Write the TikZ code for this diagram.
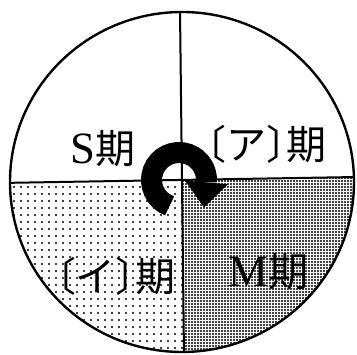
\documentclass[tikz,border=0pt]{standalone}
\usepackage{fontspec}
\setmainfont{Liberation Serif}[Scale=1.12]
\newfontfamily\jp[CharacterWidth=AlternateHalf]{Noto Sans CJK JP}
\usetikzlibrary{patterns.meta}
\begin{document}
\begin{tikzpicture}[x=1pt,y=1pt,
  lbl/.style={inner sep=0pt, font=\fontsize{40}{40}\selectfont},
  divline/.style={line width=2pt},
  rim/.style={line width=2.4pt}]
\useasboundingbox (0,0) rectangle (357,355);
\coordinate (O) at (182,173);
\coordinate (T) at (180,345);
\coordinate (B) at (184,0);
\coordinate (L) at (0,172);
\coordinate (R) at (357,178);
\coordinate (C) at (182,175);
\coordinate (A) at (179,175);
\begin{scope}
  \clip (O) ellipse [x radius=172, y radius=170];
  \fill[pattern={Dots[radius=1.1pt,distance=7pt]}] (C) -- (L) -- (0,-5) -- (184,-5) -- cycle;
  \fill[pattern={Dots[radius=1.1pt,distance=3pt]}] (C) -- (R) -- (360,-5) -- (184,-5) -- cycle;
  \draw[divline] (T) -- (B);
  \draw[divline] (L) -- (R);
\end{scope}
\draw[rim] (O) ellipse [x radius=172, y radius=170];
% cycle arrow
\draw[line width=21pt] ([shift={(250:27.5)}]A) arc[start angle=250, end angle=-5, radius=27.5];
\fill ([shift={(-5:6)}]A) -- ([shift={(-5:49)}]A) -- (204,147.5) -- cycle;
% labels
\node[lbl] (s) at (103,206) {S{\jp 期}};
\node[lbl] (a) at (266.5,211) {\jp 〔ア〕期};
\node[lbl] (i) at (116,79) {\jp 〔イ〕期};
\node[lbl] (m) at (268.5,83) {M{\jp 期}};
\end{tikzpicture}
\end{document}
